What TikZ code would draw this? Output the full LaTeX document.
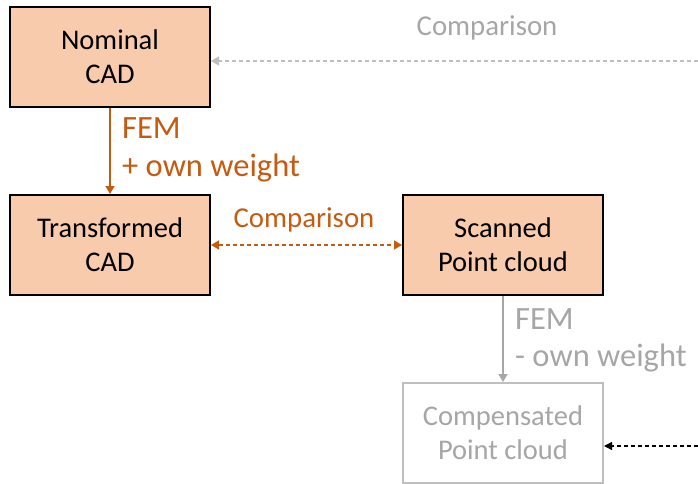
\documentclass[tikz,border=0pt]{standalone}
\usepackage{fontspec}
\setmainfont{Carlito}
\usetikzlibrary{arrows.meta,calc}
\definecolor{orng}{HTML}{C55A11}
\definecolor{boxfill}{HTML}{F8CBAD}
\definecolor{gtext}{HTML}{A6A6A6}
\definecolor{gbox}{HTML}{BFBFBF}
\tikzset{
  box/.style={rectangle, draw=black, line width=2pt, fill=boxfill, minimum width=200pt, minimum height=100pt, align=center, inner sep=0pt, font=\fontsize{28.5}{34}\selectfont},
  gbx/.style={rectangle, draw=gbox, line width=2pt, fill=white, minimum width=200pt, minimum height=100pt, align=center, inner sep=0pt, text=gtext, font=\fontsize{28.5}{34}\selectfont},
  lbl/.style={anchor=base west, font=\fontsize{32.5}{37}\selectfont, inner sep=0pt},
  cmpl/.style={anchor=base, font=\fontsize{28.8}{34}\selectfont, inner sep=0pt},
  tip/.style={-{Triangle[width=9pt,length=8pt]}},
  dsh/.style={dash pattern=on 4pt off 3pt},
}
\begin{document}
\begin{tikzpicture}[x=1pt,y=-1pt]
\useasboundingbox (0,0) rectangle (698,484);
\node[box] (nom) at (110,57) {Nominal\\CAD};
\node[box] (tra) at (110,245) {Transformed\\CAD};
\node[box] (scan) at (503,245) {Scanned\\Point cloud};
\node[gbx] (comp) at (503,433) {Compensated\\Point cloud};
% FEM + own weight
\draw[tip, orng, line width=1.5pt] (nom.south) -- (tra.north);
\node[lbl, text=orng] (fem1) at (122,139) {FEM};
\node[lbl, text=orng] (ow1) at (122,176) {+ own weight};
% orange comparison
\draw[{Triangle[width=9pt,length=8pt]}-{Triangle[width=9pt,length=8pt]}, orng, line width=1.5pt, dsh] (tra.east) -- (scan.west);
\node[cmpl, text=orng] (cmp1) at (304,227) {Comparison};
% FEM - own weight
\draw[tip, gtext, line width=1.5pt] (scan.south) -- (comp.north);
\node[lbl, text=gtext] (fem2) at (515,329) {FEM};
\node[lbl, text=gtext] (ow2) at (515,366) {- own weight};
% gray comparison
\coordinate (g1) at (698,61);
\draw[tip, gbox, line width=1.5pt, dsh] (g1) -- (g1 -| nom.east);
\node[cmpl, text=gtext] (cmp2) at (487,36) {Comparison};
% black dashed
\coordinate (g2) at (698,446);
\draw[-{Triangle[width=8pt,length=8pt]}, black, line width=1.2pt, dsh] (g2) -- (g2 -| comp.east);
\end{tikzpicture}
\end{document}
